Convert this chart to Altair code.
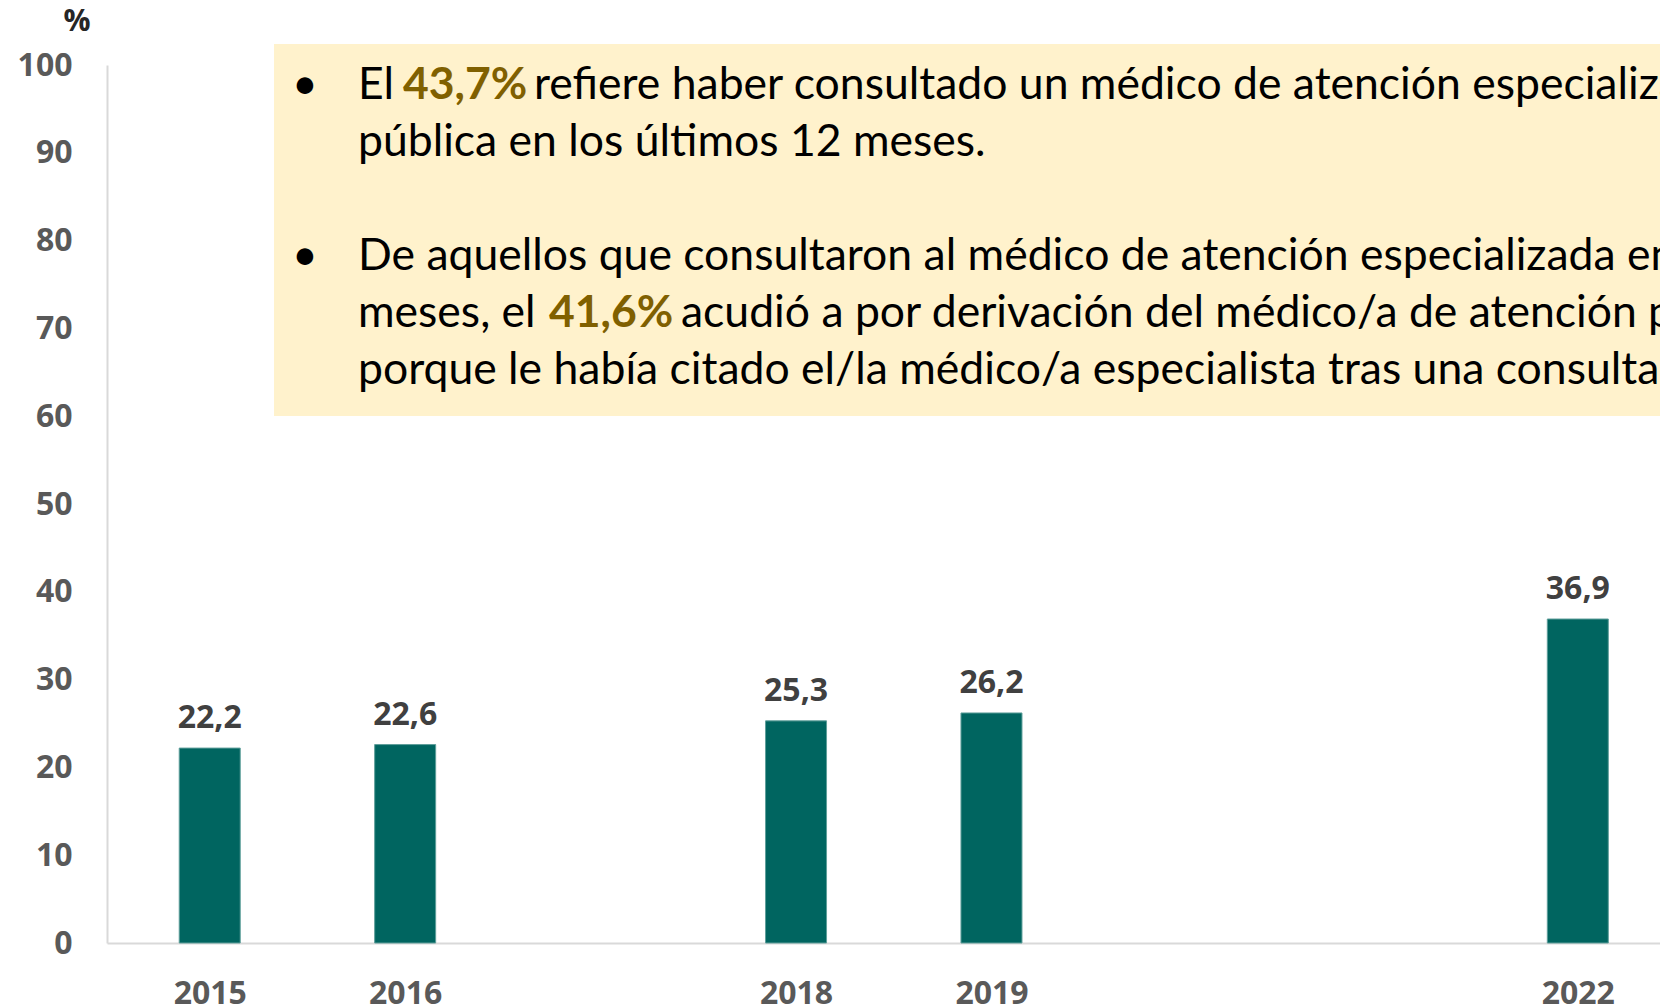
import altair as alt
import pandas as pd

# Data
years = [2015, 2016, 2018, 2019, 2022]
values = [22.2, 22.6, 25.3, 26.2, 36.9]
labels = [f"{v:.1f}".replace(".", ",") for v in values]
y_ticks = [0, 10, 20, 30, 40, 50, 60, 70, 80, 90, 100]

df = pd.DataFrame({"year": years, "value": values, "label": labels})

BAR = "#006560"
GOLD = "#806000"
BOX = "#FFF2CC"
AXIS_GRAY = "#D9D9D9"
LABEL_GRAY = "#595959"

W, H = 1553, 878

x_enc = alt.X(
    "year:Q",
    scale=alt.Scale(domain=[2014.5, 2022.395], nice=False, zero=False),
    axis=alt.Axis(
        values=years, format="d", title=None, grid=False, ticks=False,
        domainColor=AXIS_GRAY, domainWidth=2,
        labelFont="Open Sans", labelFontSize=32, labelFontWeight="bold",
        labelColor=LABEL_GRAY, labelPadding=35, labelFlush=False,
    ),
)
y_enc = alt.Y(
    "value:Q",
    scale=alt.Scale(domain=[0, 100], nice=False),
    axis=alt.Axis(
        values=y_ticks, title=None, grid=False, ticks=False,
        domainColor=AXIS_GRAY, domainWidth=2,
        labelFont="Open Sans", labelFontSize=32, labelFontWeight="bold",
        labelColor=LABEL_GRAY, labelPadding=35,
    ),
)

base = alt.Chart(df)
bars = base.mark_bar(size=61, color=BAR, stroke="#5E9E9A", strokeWidth=1).encode(x=x_enc, y=y_enc)
vals = base.mark_text(
    dy=-20, baseline="alphabetic", font="Open Sans", fontSize=32,
    fontWeight="bold", color="#404040",
).encode(x=alt.X("year:Q"), y=alt.Y("value:Q"), text="label:N")

one = alt.Data(values=[{}])

box = alt.Chart(one).mark_rect(color=BOX).encode(
    x=alt.value(167), x2=alt.value(W + 30), y=alt.value(-21), y2=alt.value(351)
)

FS = 44.5

def seg(text, x, y, bold=False, color="#000000"):
    return alt.Chart(one).mark_text(
        text=text, align="left", baseline="alphabetic", font="Lato",
        fontSize=FS, fontWeight="bold" if bold else "normal", color=color,
    ).encode(x=alt.value(x), y=alt.value(y))

segments = [
    seg("•", 185, 34),
    seg("El ", 251, 34),
    seg("43,7%", 296, 34, bold=True, color=GOLD),
    seg("refiere haber consultado un médico de atención especializada", 427, 34),
    seg("pública en los últimos 12 meses.", 251, 91),
    seg("•", 185, 205),
    seg("De aquellos que consultaron al médico de atención especializada en", 251, 205),
    seg("meses, el ", 251, 262),
    seg("41,6%", 442, 262, bold=True, color=GOLD),
    seg("acudió a por derivación del médico/a de atención primaria", 574, 262),
    seg("porque le había citado el/la médico/a especialista tras una consulta", 251, 319),
]

pct = alt.Chart(one).mark_text(
    text="%", align="center", baseline="middle", font="Open Sans",
    fontSize=30, fontWeight="bold", color="#262626",
).encode(x=alt.value(-30), y=alt.value(-43))

chart = alt.layer(box, bars, vals, pct, *segments).properties(
    width=W, height=H,
    padding={"left": 99, "top": 57, "right": 0, "bottom": 66},
    autosize=alt.AutoSizeParams(type="none"),
).configure_view(stroke=None)

chart.save("out.html", embed_options={"renderer": "svg", "actions": False})
